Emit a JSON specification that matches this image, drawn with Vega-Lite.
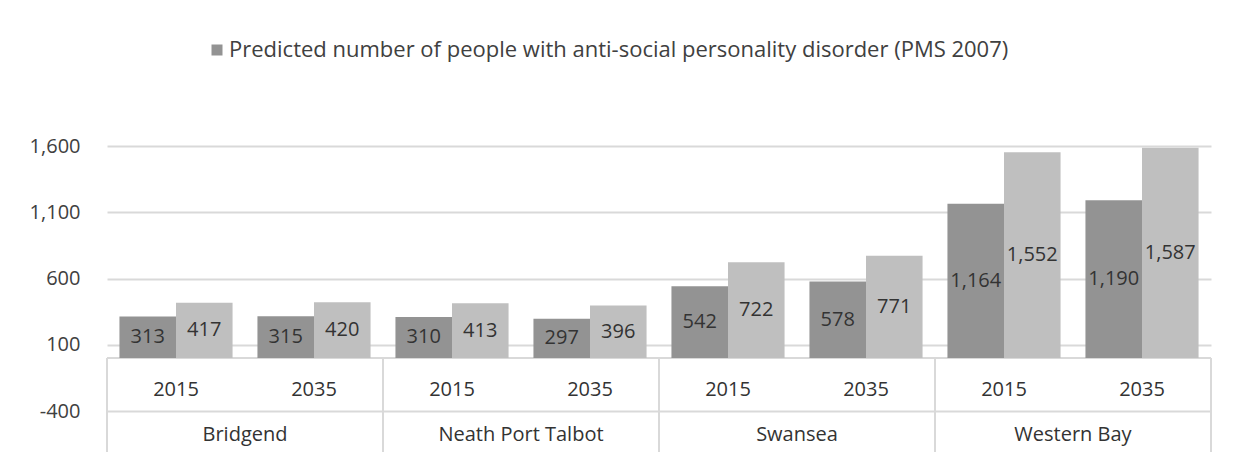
{
  "$schema": "https://vega.github.io/schema/vega-lite/v6.json",
  "autosize": {"type": "none"},
  "padding": {"left": 107, "top": 146, "right": 23, "bottom": 41},
  "width": 1104,
  "height": 265,
  "background": "white",
  "config": {
    "view": {"stroke": null},
    "font": "Open Sans",
    "locale": {"number": {"decimal": ".", "thousands": ",", "grouping": [3], "currency": ["$", ""], "minus": "-"}}
  },
  "data": {
    "values": [
      {"region": "Bridgend", "year": "2015", "series": "Predicted number of people with anti-social personality disorder (PMS 2007)", "value": 313},
      {"region": "Bridgend", "year": "2015", "series": "Series 2", "value": 417},
      {"region": "Bridgend", "year": "2035", "series": "Predicted number of people with anti-social personality disorder (PMS 2007)", "value": 315},
      {"region": "Bridgend", "year": "2035", "series": "Series 2", "value": 420},
      {"region": "Neath Port Talbot", "year": "2015", "series": "Predicted number of people with anti-social personality disorder (PMS 2007)", "value": 310},
      {"region": "Neath Port Talbot", "year": "2015", "series": "Series 2", "value": 413},
      {"region": "Neath Port Talbot", "year": "2035", "series": "Predicted number of people with anti-social personality disorder (PMS 2007)", "value": 297},
      {"region": "Neath Port Talbot", "year": "2035", "series": "Series 2", "value": 396},
      {"region": "Swansea", "year": "2015", "series": "Predicted number of people with anti-social personality disorder (PMS 2007)", "value": 542},
      {"region": "Swansea", "year": "2015", "series": "Series 2", "value": 722},
      {"region": "Swansea", "year": "2035", "series": "Predicted number of people with anti-social personality disorder (PMS 2007)", "value": 578},
      {"region": "Swansea", "year": "2035", "series": "Series 2", "value": 771},
      {"region": "Western Bay", "year": "2015", "series": "Predicted number of people with anti-social personality disorder (PMS 2007)", "value": 1164},
      {"region": "Western Bay", "year": "2015", "series": "Series 2", "value": 1552},
      {"region": "Western Bay", "year": "2035", "series": "Predicted number of people with anti-social personality disorder (PMS 2007)", "value": 1190},
      {"region": "Western Bay", "year": "2035", "series": "Series 2", "value": 1587}
    ]
  },
  "transform": [
    {"calculate": "datum.region + ' ' + datum.year", "as": "key"},
    {"calculate": "datum.value / 2", "as": "mid"}
  ],
  "encoding": {
    "x": {
      "field": "key",
      "type": "nominal",
      "sort": null,
      "axis": null,
      "scale": {"paddingInner": 0, "paddingOuter": 0}
    }
  },
  "layer": [
    {
      "mark": {"type": "rule", "color": "#d9d9d9", "strokeWidth": 2},
      "encoding": {"x": null, "y": {"datum": 0, "type": "quantitative"}}
    },
    {
      "mark": {"type": "bar"},
      "encoding": {
        "xOffset": {
          "field": "series",
          "type": "nominal",
          "sort": null,
          "scale": {"paddingInner": 0, "paddingOuter": 0.22}
        },
        "y": {
          "field": "value",
          "type": "quantitative",
          "scale": {"domain": [-400, 1600], "nice": false, "zero": false},
          "axis": {
            "values": [-400, 100, 600, 1100, 1600],
            "format": ",.0f",
            "title": null,
            "domain": false,
            "ticks": false,
            "grid": true,
            "gridColor": "#d9d9d9",
            "gridWidth": 2,
            "labelPadding": 27,
            "labelFontSize": 20,
            "labelColor": "#404040",
            "labelFont": "Open Sans"
          }
        },
        "y2": {"datum": 0},
        "color": {
          "field": "series",
          "type": "nominal",
          "sort": null,
          "scale": {"range": ["#939393", "#bfbfbf"]},
          "legend": {
            "values": ["Predicted number of people with anti-social personality disorder (PMS 2007)"],
            "orient": "none",
            "legendX": 99,
            "legendY": -107,
            "title": null,
            "symbolType": "square",
            "symbolSize": 121,
            "symbolStrokeWidth": 0,
            "labelFontSize": 22,
            "labelColor": "#404040",
            "labelFont": "Open Sans",
            "labelOffset": 1,
            "labelLimit": 1000
          }
        }
      }
    },
    {
      "mark": {"type": "text", "fontSize": 20, "color": "#333333", "baseline": "middle", "font": "Open Sans"},
      "encoding": {
        "xOffset": {"field": "series", "type": "nominal", "sort": null},
        "y": {"field": "mid", "type": "quantitative"},
        "text": {"field": "value", "type": "quantitative", "format": ","}
      }
    },
    {
      "transform": [{"filter": "datum.series == 'Series 2'"}],
      "mark": {"type": "text", "fontSize": 20, "color": "#333333", "baseline": "middle", "font": "Open Sans"},
      "encoding": {
        "y": {"datum": -242},
        "text": {"field": "year"}
      }
    },
    {
      "transform": [{"filter": "datum.series == 'Series 2' && datum.year == '2015'"}],
      "mark": {"type": "text", "fontSize": 20, "color": "#333333", "baseline": "middle", "font": "Open Sans"},
      "encoding": {
        "x": {"field": "key", "type": "nominal", "sort": null, "bandPosition": 1},
        "y": {"datum": -581},
        "text": {"field": "region"}
      }
    },
    {
      "transform": [{"filter": "datum.series == 'Series 2' && datum.year == '2015'"}],
      "mark": {"type": "rule", "color": "#d9d9d9", "strokeWidth": 2},
      "encoding": {
        "x": {"field": "key", "type": "nominal", "sort": null, "bandPosition": 0},
        "y": {"datum": 0},
        "y2": {"datum": -800}
      }
    },
    {
      "transform": [{"filter": "datum.series == 'Series 2' && datum.region == 'Western Bay' && datum.year == '2035'"}],
      "mark": {"type": "rule", "color": "#d9d9d9", "strokeWidth": 2},
      "encoding": {
        "x": {"field": "key", "type": "nominal", "sort": null, "bandPosition": 1},
        "y": {"datum": 0},
        "y2": {"datum": -800}
      }
    }
  ]
}
